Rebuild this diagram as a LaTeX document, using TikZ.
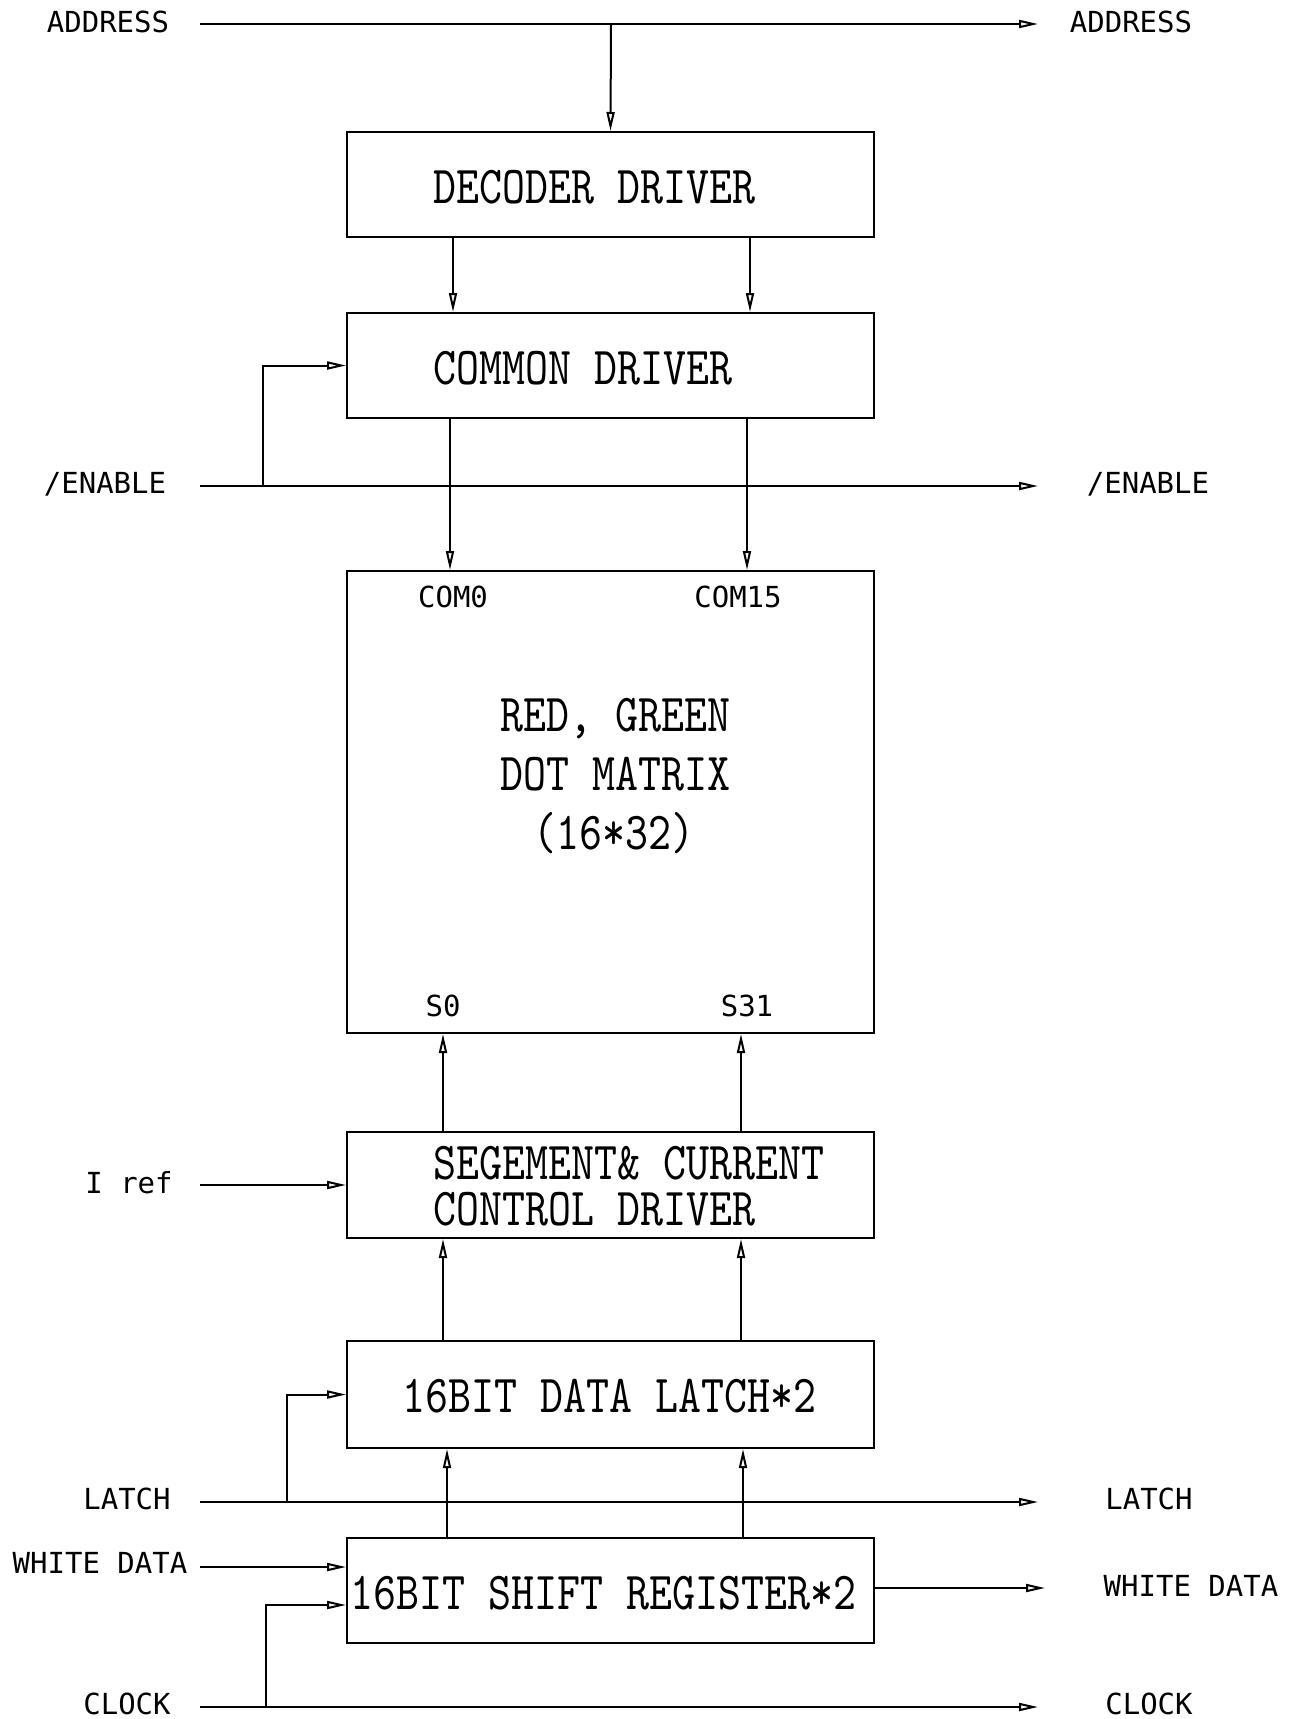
\documentclass[tikz,border=0pt]{standalone}
\usepackage{fontspec}
\usetikzlibrary{arrows.meta,calc}

\newfontfamily\pinfont{DejaVu Sans Mono}
\newfontfamily\blockfont{lmmono10-regular.otf}[FakeStretch=0.82]

\begin{document}
\begin{tikzpicture}[
    x=0.5pt, y=-0.5pt,
    wire/.style={line width=1pt},
    sig/.style={line width=1pt, -{Triangle[open, length=9.5pt, width=4pt]}},
    blockbox/.style={draw, line width=1pt, inner sep=0pt,
      minimum width=263.5pt},
    pin/.style={font={\pinfont\fontsize{14.5pt}{17pt}\selectfont},
      inner sep=0pt, anchor=base},
    blocktext/.style={font={\blockfont\fontsize{26.7pt}{30pt}\selectfont},
      inner sep=0pt, anchor=base west}
  ]

\useasboundingbox (0,0) rectangle (1294,1719);

% common left / right ends of the bus lines
\def\xin{200}
\def\xout{1038}

% ============================================================
% BLOCKS
% ============================================================
\node[blockbox, minimum height=52.5pt] (dec) at (610.5,184.5) {};
\node[blockbox, minimum height=52.5pt] (com) at (610.5,365.5) {};
\node[blockbox, minimum height=231pt]  (mat) at (610.5,802) {};
\node[blockbox, minimum height=53pt]   (seg) at (610.5,1185) {};
\node[blockbox, minimum height=53.5pt] (lat) at (610.5,1394.5) {};
\node[blockbox, minimum height=52.5pt] (shf) at (610.5,1590.5) {};

\node[blocktext] (dectxt) at (433,203) {DECODER DRIVER};
\node[blocktext] (comtxt) at (433,384) {COMMON DRIVER};

\node[blocktext] (mattxta) at (500,731) {RED, GREEN};
\node[blocktext] (mattxtb) at (500,790) {DOT MATRIX};
\node[blocktext] (mattxtc) at (533,849) {(16*32)};

\node[blocktext] (segtxta) at (433,1179) {SEGEMENT\& CURRENT};
\node[blocktext] (segtxtb) at (433,1225) {CONTROL DRIVER};

\node[blocktext] (lattxt) at (402,1412) {16BIT DATA LATCH*2};
\node[blocktext] (shftxt) at (350,1609) {16BIT SHIFT REGISTER*2};

% matrix pins
\node[pin] (com0) at (453,607) {COM0};
\node[pin] (com15) at (738,607) {COM15};
\node[pin] (s0) at (443,1016) {S0};
\node[pin] (s31) at (747,1016) {S31};

% ============================================================
% BUS LINES AND LABELS
% ============================================================
\coordinate (addrL) at (\xin,24);
\coordinate (addrR) at (\xout,24);
\coordinate (addrtap) at (611,24);
\node[pin] (addrLtxt) at (108,32) {ADDRESS};
\node[pin] (addrRtxt) at (1131,32) {ADDRESS};
\draw[sig] (addrL) -- (addrR);
\draw[sig] (addrtap) -- (dec.north);

\coordinate (enL) at (\xin,486);
\coordinate (enR) at (\xout,486);
\coordinate (entap) at (263,486);
\node[pin] (enLtxt) at (105,493) {/ENABLE};
\node[pin] (enRtxt) at (1148,493) {/ENABLE};
\draw[sig] (enL) -- (enR);
\draw[sig] (entap) |- (com.west);

\coordinate (irefL) at (\xin,1185);
\node[pin] (irefLtxt) at (129,1193) {I ref};
\draw[sig] (irefL) -- (seg.west);

\coordinate (latL) at (\xin,1502);
\coordinate (latR) at (\xout,1502);
\coordinate (lattap) at (287,1502);
\node[pin] (latLtxt) at (127,1509) {LATCH};
\node[pin] (latRtxt) at (1149,1509) {LATCH};
\draw[sig] (latL) -- (latR);
\draw[sig] (lattap) |- (lat.west);

\coordinate (wdL) at (\xin,1567);
\coordinate (wdR) at (1045,1588);
\node[pin] (wdLtxt) at (100,1573) {WHITE DATA};
\node[pin] (wdRtxt) at (1191,1596) {WHITE DATA};
\draw[sig] (wdL) -- (wdL -| shf.west);
\draw[sig] (wdR -| shf.east) -- (wdR);

\coordinate (clkL) at (\xin,1707);
\coordinate (clkR) at (\xout,1707);
\coordinate (clktap) at (266,1707);
\node[pin] (clkLtxt) at (127,1714) {CLOCK};
\node[pin] (clkRtxt) at (1149,1714) {CLOCK};
\draw[sig] (clkL) -- (clkR);
\draw[sig] (clktap) |- ($(shf.west)+(0,14.5)$);

% ============================================================
% BLOCK TO BLOCK SIGNALS
% ============================================================
\coordinate (dc1) at (453,0);
\coordinate (dc2) at (750,0);
\draw[sig] (dec.south -| dc1) -- (com.north -| dc1);
\draw[sig] (dec.south -| dc2) -- (com.north -| dc2);

\coordinate (cm1) at (450,0);
\coordinate (cm2) at (747,0);
\draw[sig] (com.south -| cm1) -- (mat.north -| cm1);
\draw[sig] (com.south -| cm2) -- (mat.north -| cm2);

\coordinate (sm1) at (443,0);
\coordinate (sm2) at (741,0);
\draw[sig] (seg.north -| sm1) -- (mat.south -| sm1);
\draw[sig] (seg.north -| sm2) -- (mat.south -| sm2);
\draw[sig] (lat.north -| sm1) -- (seg.south -| sm1);
\draw[sig] (lat.north -| sm2) -- (seg.south -| sm2);

\coordinate (ls1) at (447,0);
\coordinate (ls2) at (743,0);
\draw[sig] (shf.north -| ls1) -- (lat.south -| ls1);
\draw[sig] (shf.north -| ls2) -- (lat.south -| ls2);

\end{tikzpicture}
\end{document}
